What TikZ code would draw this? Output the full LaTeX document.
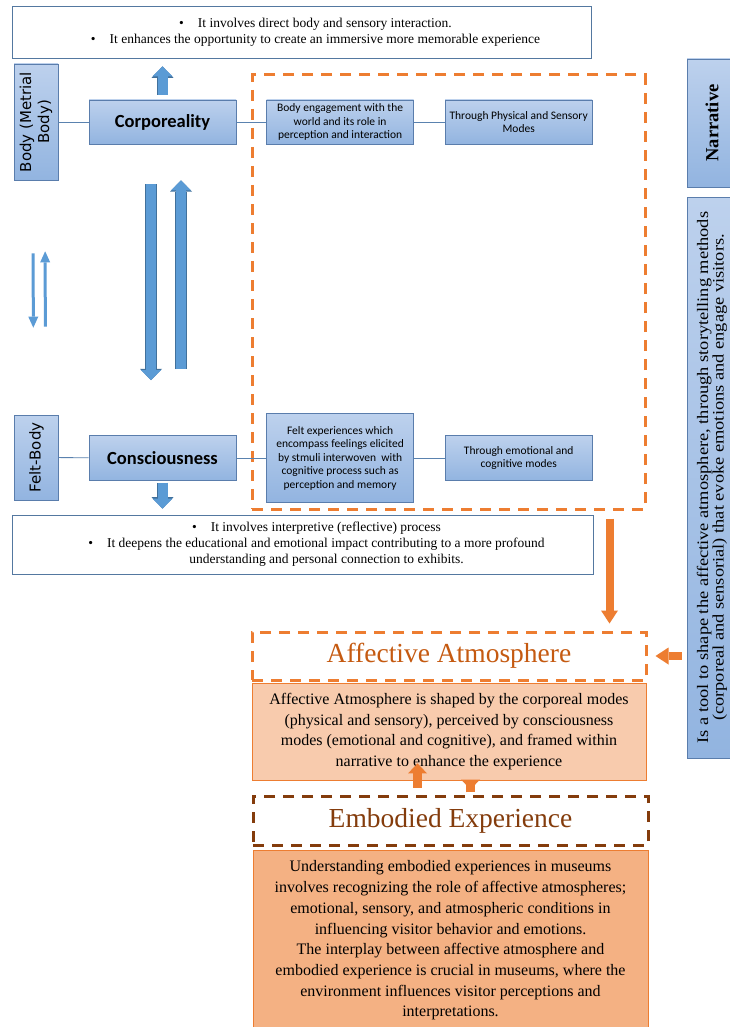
\documentclass[tikz,border=0pt]{standalone}
\usepackage{fontspec}
\setmainfont{Liberation Serif}
\newfontfamily\calibrifont{Carlito}
\newfontfamily\sidefont{DejaVu Sans}
\newfontfamily\widefont[FakeStretch=1.15]{Liberation Serif}
\usepackage{xcolor}
\usetikzlibrary{arrows.meta,positioning}
\definecolor{boxedge}{RGB}{90,125,172}
\definecolor{boxtop}{RGB}{189,209,237}
\definecolor{boxbot}{RGB}{146,180,224}
\definecolor{arrowblue}{RGB}{91,155,213}
\definecolor{arrowedge}{RGB}{65,113,156}
\definecolor{linkblue}{RGB}{90,130,175}
\definecolor{noteedge}{RGB}{84,120,160}
\definecolor{atmoorange}{RGB}{237,125,49}
\definecolor{atmotext}{RGB}{197,90,17}
\definecolor{embodbrown}{RGB}{132,60,12}
\definecolor{peach}{RGB}{248,203,173}
\definecolor{apricot}{RGB}{244,177,131}
\tikzset{
	bluebox/.style={draw=boxedge, top color=boxtop, bottom color=boxbot, align=center,
		inner sep=2pt, minimum width=147pt, line width=0.6pt},
	sidebox/.style={draw=boxedge, top color=boxtop, bottom color=boxbot, align=center,
		inner sep=2pt, rotate=90, line width=0.6pt},
	modetext/.style={font=\calibrifont\fontsize{11.5}{13.5}\selectfont},
	titletext/.style={font=\calibrifont\bfseries\fontsize{18.5}{22}\selectfont},
	notebox/.style={draw=noteedge, fill=white, align=center, inner sep=3pt,
		line width=0.8pt, font=\fontsize{13.5}{16}\selectfont},
	link/.style={draw=linkblue, line width=0.8pt},
	orangedash/.style={draw=atmoorange, line width=3pt, dash pattern=on 11pt off 8pt},
	browndash/.style={draw=embodbrown, line width=3pt, dash pattern=on 11pt off 8pt},
	textbox/.style={draw=atmoorange, line width=0.8pt, align=center, inner sep=2pt,
		font=\fontsize{16}{20.7}\selectfont},
	blockarrow/.style={arrowblue, line width=10pt,
		-{Triangle[length=10pt 0 0, width=20pt 0 0, line width=0pt 0 0]},
		preaction={draw=arrowedge, line width=11.4pt,
			-{Triangle[length=11.4pt 0 0, width=22pt 0 0, line width=0pt 0 0]}}},
	thinarrow/.style={arrowblue, line width=3pt,
		-{Triangle[length=11pt 0 0, width=10pt 0 0, line width=0pt 0 0]}},
	orangearrow/.style={atmoorange, line width=8pt,
		-{Triangle[length=13pt 0 0, width=17pt 0 0, line width=0pt 0 0]}},
	smallorange/.style={atmoorange, line width=9pt,
		-{Triangle[length=10pt 0 0, width=19pt 0 0, line width=0pt 0 0]}}
}

\begin{document}
\begin{tikzpicture}[x=1pt, y=-1pt]
	\path[use as bounding box, fill=white] (0,0) rectangle (729,1027);
	
	%% -- Dashed frame round the modes
	\node[orangedash, inner sep=0pt, minimum width=393pt, minimum height=434pt] (frame) at (448.5,292) {};
	
	%% -- Corporeality row
	\node[notebox, minimum width=579pt, minimum height=52pt] (corpnote) at (301.5,32)
	{\hspace*{28pt}\textbullet\hspace{14pt}It involves direct body and sensory interaction.\\
		\hspace*{28pt}\textbullet\hspace{14pt}It enhances the opportunity to create an immersive more memorable experience};
	
	\node[sidebox, minimum width=116pt, minimum height=44pt,
	font=\sidefont\fontsize{15}{18}\selectfont] (bodyside) at (36,122)
	{Body (Metrial\\ Body)};
	
	\node[bluebox, minimum height=44pt, titletext] (corp) at (162.5,122) {Corporeality};
	
	\node[bluebox, minimum height=44pt, modetext, right=30pt of corp] (engage)
	{Body engagement with the\\ world and its role in\\ perception and interaction};
	
	\node[bluebox, minimum height=44pt, modetext, right=31pt of engage] (physmode)
	{Through Physical and Sensory\\ Modes};
	
	%% -- Consciousness row
	\node[sidebox, minimum width=85pt, minimum height=44pt,
	font=\sidefont\fontsize{15}{18}\selectfont] (feltside) at (36.5,457.5)
	{Felt-Body};
	
	\node[bluebox, minimum height=45pt, titletext] (cons) at (162.5,458) {Consciousness};
	
	\node[bluebox, minimum height=89pt, modetext, right=30pt of cons] (felt)
	{Felt experiences which\\ encompass feelings elicited\\ by stmuli interwoven\ \ with\\
		cognitive process such as\\ perception and memory};
	
	\node[bluebox, minimum height=45pt, modetext, right=31pt of felt] (emomode)
	{Through emotional and\\ cognitive modes};
	
	\node[notebox, minimum width=581pt, minimum height=59pt] (consnote) at (302.5,544.5)
	{\hspace*{28pt}\textbullet\hspace{14pt}It involves interpretive (reflective) process\\
		\hspace*{28pt}\textbullet\hspace{14pt}It deepens the educational and emotional impact contributing to a more profound\\
		\hspace*{48pt}understanding and personal connection to exhibits.};
	
	%% -- Narrative (right margin)
	\node[sidebox, minimum width=128pt, minimum height=50pt,
	font=\bfseries\fontsize{18.5}{22}\selectfont] (narr) at (712,123) {Narrative};
	
	\node[sidebox, minimum width=561pt, minimum height=50pt,
	font=\widefont\fontsize{16}{15.5}\selectfont] (narrdesc) at (712,477.5)
	{Is a tool to shape the affective atmosphere, through storytelling methods\\
		(corporeal and sensorial) that evoke emotions and engage visitors.};
	
	%% -- Affective atmosphere and embodied experience
	\node[orangedash, minimum width=394pt, minimum height=48pt, text=atmotext,
	font=\fontsize{27.5}{33}\selectfont] (atmo) at (449,656) {Affective Atmosphere};
	
	\node[textbox, fill=peach, minimum width=394pt, minimum height=97pt] (atmodesc) at (449,731.5)
	{Affective Atmosphere is shaped by the corporeal modes\\
		(physical and sensory), perceived by consciousness\\
		modes (emotional and cognitive), and framed within\\
		narrative to enhance the experience};
	
	\node[browndash, minimum width=395pt, minimum height=49pt, text=embodbrown,
	font=\fontsize{27.5}{33}\selectfont] (embod) at (450.5,820.5) {Embodied Experience};
	
	\node[textbox, fill=apricot, minimum width=395pt, minimum height=181pt] (embodesc) at (450.5,940.5)
	{Understanding embodied experiences in museums\\
		involves recognizing the role of affective atmospheres;\\
		emotional, sensory, and atmospheric conditions in\\
		influencing visitor behavior and emotions.\\
		The interplay between affective atmosphere and\\
		embodied experience is crucial in museums, where the\\
		environment influences visitor perceptions and\\
		interpretations.};
	
	%% -- Links
	\draw[link] (bodyside) -- (corp);
	\draw[link] (corp) -- (engage);
	\draw[link] (engage) -- (physmode);
	\draw[link] (feltside) -- (cons);
	\draw[link] (cons) -- (felt);
	\draw[link] (felt) -- (emomode);
	
	%% -- Blue block arrows
	\draw[blockarrow, shorten <=5pt, shorten >=8pt] (corp.north) -- (corp.north |- corpnote.south);
	\draw[blockarrow, shorten <=40pt, shorten >=55pt] ([xshift=-11.5pt]corp.south) -- ([xshift=-11.5pt]cons.north);
	\draw[blockarrow, shorten <=66pt, shorten >=36pt] ([xshift=18.5pt]cons.north) -- ([xshift=18.5pt]corp.south);
	\draw[blockarrow, shorten <=2pt, shorten >=6pt] (cons.south) -- (cons.south |- consnote.north);
	\draw[thinarrow, shorten <=73pt, shorten >=87pt] ([xshift=-3pt]bodyside.west) -- ([xshift=-3pt]feltside.east);
	\draw[thinarrow, shorten <=88pt, shorten >=71pt] ([xshift=9pt]feltside.east) -- ([xshift=9pt]bodyside.west);
	
	%% -- Orange arrows
	\draw[orangearrow, shorten <=8pt, shorten >=7pt] ([xshift=-37pt]frame.south east) -- ([xshift=-37pt]frame.south east |- atmo.north);
	\draw[orangearrow, shorten <=5pt, shorten >=8pt] (narrdesc.north |- atmo.east) -- (atmo.east);
	\draw[smallorange, shorten <=7pt, shorten >=-17pt] ([xshift=-33pt]embod.north) -- ([xshift=-33pt]embod.north |- atmodesc.south);
	\draw[smallorange, shorten <=-12pt, shorten >=5pt] ([xshift=20pt]embod.north |- atmodesc.south) -- ([xshift=20pt]embod.north);
	
\end{tikzpicture}
\end{document}
